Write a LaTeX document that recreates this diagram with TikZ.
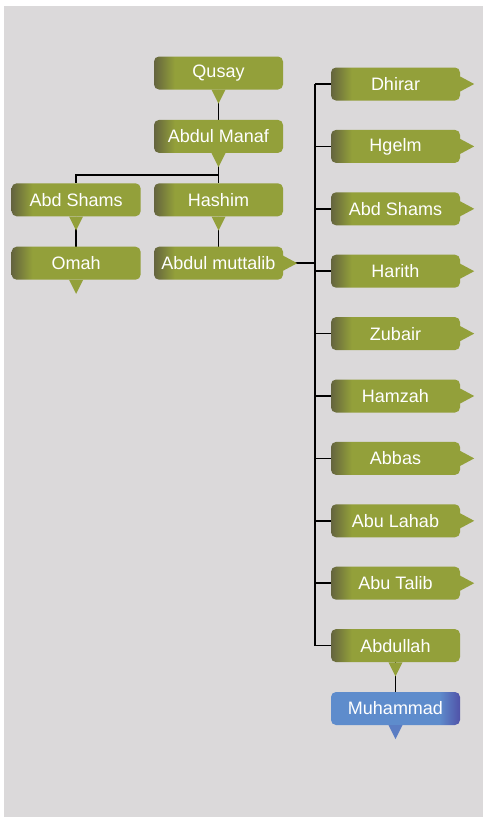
\documentclass[tikz,border=0pt]{standalone}
\usepackage{fontspec}
\setmainfont{Liberation Sans}
\usepackage{tikz}
\usetikzlibrary{positioning}
\usetikzlibrary{calc}
\usetikzlibrary{backgrounds}
\definecolor{olivegreen}{RGB}{147,160,58}
\definecolor{olivedark}{RGB}{100,100,62}
\definecolor{pagegray}{RGB}{219,217,218}
\definecolor{boyblue}{RGB}{94,140,204}
\definecolor{boydark}{RGB}{80,82,168}
\pgfdeclarehorizontalshading{oliveshade}{100bp}{color(0bp)=(olivedark); color(25bp)=(olivedark); color(33bp)=(olivegreen); color(100bp)=(olivegreen)}
\pgfdeclarehorizontalshading{blueshade}{100bp}{color(0bp)=(boyblue); color(67bp)=(boyblue); color(75bp)=(boydark); color(100bp)=(boydark)}
\tikzstyle{person}=[rounded corners=5pt,minimum width=129pt,minimum height=33pt,inner sep=0pt,text=white,font=\fontsize{18}{20}\selectfont,shading=oliveshade]
\tikzstyle{prophet}=[person,shading=blueshade]
\tikzstyle{link}=[line width=1.6pt,black]

\begin{document}
\begin{tikzpicture}[x=1pt,y=-1pt,node distance=30pt]
      \useasboundingbox (0,0) rectangle (483,817);

      % line of Qusay
      \node[person] (qusay) at (218.5,73) {Qusay};
      \node[person,below=of qusay] (manaf) {Abdul Manaf};
      \node[person,below=of manaf] (hashim) {Hashim};
      \node[person,left=13pt of hashim] (abdshams) {Abd Shams};
      \node[person,below=of abdshams] (omah) {Omah};
      \node[person,below=of hashim] (muttalib) {Abdul muttalib};
      \coordinate (split) at ($(manaf.south)+(0,22)$);
      \coordinate (trunk) at (315,0);

      % sons of Abdul muttalib
      \foreach \name [count=\i] in {Dhirar,Hgelm,Abd Shams,Harith,Zubair,Hamzah,Abbas,Abu Lahab,Abu Talib,Abdullah}{
        \node[person] (son\i) at (395.5,{21.6+62.4*\i}) {\name};
      }
      \node[prophet,below=29.5pt of son10] (muhammad) {Muhammad};

      % little pointers
      \foreach \n in {qusay,manaf,abdshams,hashim,omah,son10}{
        \fill[olivegreen] (\n.south) ++(-7,0) -- ++(14,0) -- ++(-7,14) -- cycle;
      }
      \fill[boyblue!75!boydark] (muhammad.south) ++(-7,0) -- ++(14,0) -- ++(-7,14) -- cycle;
      \foreach \n in {muttalib,son1,son2,son3,son4,son5,son6,son7,son8,son9}{
        \fill[olivegreen] (\n.east) ++(0,-7.5) -- ++(14,7.5) -- ++(-14,7.5) -- cycle;
      }

      \begin{scope}[on background layer]
        \fill[pagegray] (4,6) rectangle (483,817);
        \draw[link] (qusay) -- (manaf);
        \draw[link] (manaf) -- (split) -| (abdshams);
        \draw[link] (split) -- (hashim);
        \draw[link] (abdshams) -- (omah);
        \draw[link] (hashim) -- (muttalib);
        \draw[link] (muttalib) -- (muttalib -| trunk);
        \draw[link] (son1 -| trunk) -- (son10 -| trunk);
        \foreach \i in {1,...,10}{
          \draw[link] (son\i -| trunk) -- (son\i);
        }
        \draw[link] (son10) -- (muhammad);
      \end{scope}

\end{tikzpicture}
\end{document}
